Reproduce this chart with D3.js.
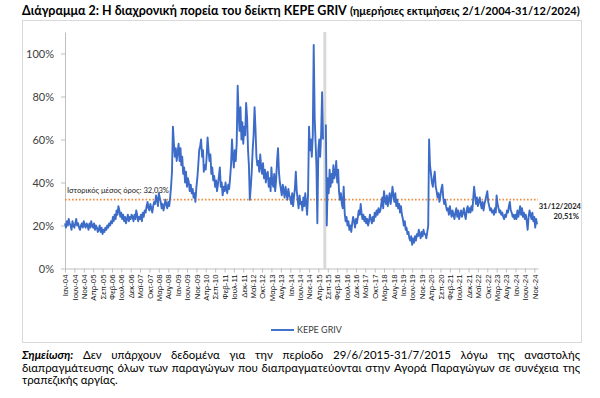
<!DOCTYPE html>
<html>
<head>
<meta charset="utf-8">
<script src="https://cdn.jsdelivr.net/npm/d3@7"></script>
<style>
  body { margin: 0; background: #fff; }
  svg { display: block; }
</style>
</head>
<body>
<div class="chart"></div>
<script>
// KEPE GRIV, % - two readings a month (1st and 16th)
let v2004 = [21,19,22,20,23,21,20,18,22,20,19,21,23,20,21,19,18,20,21,19,22,20,19,21];
let v2005 = [20,18,21,19,22,20,19,21,18,20,19,17,18,20,17,19,16,18,17,19,18,20,19,21];
let v2006 = [20,22,21,24,22,25,23,27,25,29,27,24,26,23,25,22,24,21,23,25,22,24,23,25];
let v2007 = [24,22,25,23,27,25,22,24,23,25,22,26,24,27,26,29,31,28,27,30,28,26,29,31];
let v2008 = [30,34,32,29,35,33,31,28,30,27,29,32,30,28,31,29,33,38,45,66,58,52,56,50];
let v2009 = [54,58,50,56,48,52,44,47,40,45,38,42,40,36,39,35,37,33,35,31,38,42,48,55];
let v2010 = [57,60,52,55,45,48,46,52,61,55,50,53,44,47,41,43,38,41,36,39,43,47,38,40];
let v2011 = [34,38,36,40,37,35,39,37,42,48,60,52,47,55,50,58,85,72,64,75,60,68,58,66];
let v2012 = [62,77,70,55,48,32,38,45,55,62,75,65,52,48,50,45,53,47,44,49,42,46,40,44];
let v2013 = [45,38,42,36,47,40,38,44,36,41,50,56,45,40,37,34,39,36,33,38,35,32,37,34];
let v2014 = [33,30,35,29,33,37,45,36,32,28,34,30,31,27,33,29,35,30,25,34,66,55,60,52];
let v2015 = [62,104,70,58,48,21,55,60,52,62,82,60,null,null,67,20,42,35,46,38,44,40,48,42];
let v2016 = [44,50,40,46,36,32,35,30,28,38,26,22,24,20,22,18,20,17,21,24,22,19,23,21];
let v2017 = [24,27,25,30,26,23,25,22,24,21,23,20,22,25,23,21,24,22,26,24,27,25,28,26];
let v2018 = [27,30,33,28,36,32,30,34,29,32,35,30,33,38,34,31,35,29,32,28,30,26,29,25];
let v2019 = [23,20,22,18,19,16,17,14,13,15,11,14,12,15,13,16,15,18,16,14,17,15,18,16];
let v2020 = [16,14,17,20,60,48,44,40,38,42,45,38,36,33,35,31,34,37,39,33,30,32,29,27];
let v2021 = [28,25,29,26,24,27,25,23,26,28,24,27,23,25,27,24,26,28,25,23,27,29,26,28];
let v2022 = [26,29,27,33,38,34,30,33,29,31,33,30,28,31,27,30,32,34,36,31,29,27,28,26];
let v2023 = [27,25,28,26,34,30,28,26,27,25,26,24,23,25,24,27,26,29,31,27,26,24,25,23];
let v2024 = [25,23,27,24,26,29,25,28,24,26,23,25,22,18,24,27,25,23,26,22,24,19,23,20.51];

let monthNames = ["Ιαν","Φεβ","Μαρ","Απρ","Μαϊ","Ιουν","Ιουλ","Αυγ","Σεπ","Οκτ","Νοε","Δεκ"];
let yTicks = [0, 20, 40, 60, 80, 100];
let historicalMean = 32.03;
let lastValue = 20.51;
let gapStart = new Date(2015, 5, 29);
let gapEnd = new Date(2015, 6, 31);

let titleMain = "Διάγραμμα 2: Η διαχρονική πορεία του δείκτη KEPE GRIV";
let titleSub = "(ημερήσιες εκτιμήσεις 2/1/2004-31/12/2024)";
let noteLines = [
    "Σημείωση: Δεν υπάρχουν δεδομένα για την περίοδο 29/6/2015-31/7/2015 λόγω της αναστολής",
    "διαπραγμάτευσης όλων των παραγώγων που διαπραγματεύονται στην Αγορά Παραγώγων σε συνέχεια της",
    "τραπεζικής αργίας."
];

let svgWidth = 600;
let svgHeight = 398;
let margin = { top: 32, right: 62, bottom: 129.5, left: 65 };
let width = svgWidth - margin.left - margin.right;
let height = svgHeight - margin.top - margin.bottom;

let yearly = [v2004, v2005, v2006, v2007, v2008, v2009, v2010, v2011, v2012, v2013, v2014,
              v2015, v2016, v2017, v2018, v2019, v2020, v2021, v2022, v2023, v2024];
let data = [];
yearly.forEach(function (vals, k) {
    vals.forEach(function (v, i) {
        data.push({ date: new Date(2004 + k, Math.floor(i / 2), i % 2 ? 16 : 1), value: v });
    });
});

let svg = d3.select(".chart")
    .append("svg")
    .attr("width", svgWidth)
    .attr("height", svgHeight);

// outer frame
svg.append("rect")
    .attr("x", 22.5).attr("y", 20.5)
    .attr("width", 559).attr("height", 322)
    .attr("fill", "none")
    .attr("stroke", "#d9d9d9");

// title: the two parts sized so they span the same width as in the source
function fitText(sel, target) {
    sel.attr("font-size", "10px");
    let w = sel.node().getComputedTextLength();
    sel.attr("font-size", (10 * target / w) + "px");
}
let titleMainText = svg.append("text")
    .attr("x", 22).attr("y", 14.5)
    .attr("font-family", "Lato, 'Open Sans', sans-serif")
    .attr("font-weight", "bold")
    .attr("fill", "#000")
    .text(titleMain);
fitText(titleMainText, 325);
let titleSubText = svg.append("text")
    .attr("x", 350).attr("y", 14.5)
    .attr("font-family", "Lato, 'Open Sans', sans-serif")
    .attr("font-weight", "bold")
    .attr("fill", "#000")
    .text(titleSub);
fitText(titleSubText, 230);

let chartGroup = svg.append("g")
    .attr("transform", `translate(${margin.left}, ${margin.top})`);

let x = d3.scaleTime()
    .domain([new Date(2004, 0, 1), new Date(2024, 11, 31)])
    .range([0, width]);

let y = d3.scaleLinear()
    .domain([0, 110])
    .range([height, 0]);

// suspension of trading, summer 2015
let gx0 = x(gapStart), gx1 = x(gapEnd);
chartGroup.append("rect")
    .attr("x", (gx0 + gx1) / 2 - 1.5)
    .attr("y", 0)
    .attr("width", 3)
    .attr("height", height)
    .attr("fill", "#d9d9d9");

// axes
let tickDates = [];
for (let m = 0; m <= 250; m += 5) tickDates.push(new Date(2004, m, 1));

let bottomAxis = d3.axisBottom(x)
    .tickValues(tickDates)
    .tickSize(4)
    .tickSizeOuter(0)
    .tickFormat(d => monthNames[d.getMonth()] + "-" + String(d.getFullYear()).slice(2));

let leftAxis = d3.axisLeft(y)
    .tickValues(yTicks)
    .tickSize(4)
    .tickSizeOuter(0)
    .tickFormat(d => d + "%");

let xAxis = chartGroup.append("g")
    .attr("transform", `translate(0, ${height})`)
    .call(bottomAxis);

xAxis.selectAll("text")
    .attr("font-family", "Arimo, 'Liberation Sans', Arial, sans-serif")
    .attr("font-size", "7.8px")
    .attr("fill", "#111")
    .attr("text-anchor", "end")
    .attr("transform", "rotate(-90)")
    .attr("x", -6)
    .attr("y", 0)
    .attr("dy", "0.35em");

let yAxis = chartGroup.append("g")
    .call(leftAxis);

yAxis.selectAll("text")
    .attr("font-family", "Lato, 'Open Sans', sans-serif")
    .attr("font-size", "11px")
    .attr("fill", "#404040")
    .attr("x", -11);

chartGroup.selectAll(".domain, .tick line")
    .attr("stroke", "#bfbfbf");

// historical mean
chartGroup.append("line")
    .attr("x1", 0).attr("x2", width)
    .attr("y1", y(historicalMean)).attr("y2", y(historicalMean))
    .attr("stroke", "#f08a3c")
    .attr("stroke-width", 1.6)
    .attr("stroke-dasharray", "1.6,1.9");

// series
let line = d3.line()
    .defined(d => d.value !== null)
    .x(d => x(d.date))
    .y(d => y(d.value));

chartGroup.append("path")
    .datum(data)
    .attr("fill", "none")
    .attr("stroke", "#3c6cc8")
    .attr("stroke-width", 1.9)
    .attr("stroke-linejoin", "round")
    .attr("d", line);

// annotations
chartGroup.append("text")
    .attr("x", 2).attr("y", y(historicalMean) - 7)
    .attr("font-family", "Lato, 'Open Sans', sans-serif")
    .attr("font-size", "7.6px")
    .attr("fill", "#262626")
    .text("Ιστορικός μέσος όρος: " + String(historicalMean).replace(".", ",") + "%");

let lastLabel = chartGroup.append("g")
    .attr("font-family", "Lato, 'Open Sans', sans-serif")
    .attr("font-size", "7.6px")
    .attr("font-weight", "bold")
    .attr("fill", "#262626")
    .attr("text-anchor", "end");
lastLabel.append("text")
    .attr("x", width + 43).attr("y", y(lastValue) - 15)
    .text("31/12/2024");
lastLabel.append("text")
    .attr("x", width + 41).attr("y", y(lastValue) - 5)
    .text(String(lastValue).replace(".", ",") + "%");

// legend
let legend = svg.append("g")
    .attr("transform", "translate(271, 330)");
legend.append("line")
    .attr("x1", 0).attr("x2", 23)
    .attr("stroke", "#3c6cc8")
    .attr("stroke-width", 1.9);
legend.append("text")
    .attr("x", 26).attr("y", 3.3)
    .attr("font-family", "Lato, 'Open Sans', sans-serif")
    .attr("font-size", "9px")
    .attr("fill", "#404040")
    .text("KEPE GRIV");

// footnote, justified like the source; size picked so the middle line fills the frame
let noteGroup = svg.append("g")
    .attr("font-family", "Lato, 'Open Sans', sans-serif")
    .attr("fill", "#000");

let probe = noteGroup.append("text").attr("font-size", "10px").text(noteLines[1]);
let noteSize = 10 * 548 / probe.node().getComputedTextLength();
probe.remove();
noteGroup.attr("font-size", noteSize + "px");

noteLines.forEach(function (txt, li) {
    let words = txt.split(" ");
    let yPos = 359 + li * 12.6;
    let nodes = words.map(function (w, wi) {
        let t = noteGroup.append("text").attr("y", yPos).text(w);
        if (li === 0 && wi === 0) t.attr("font-weight", "bold").attr("font-style", "italic");
        return t;
    });
    let widths = nodes.map(n => n.node().getComputedTextLength());
    let total = d3.sum(widths);
    let justify = li < noteLines.length - 1;
    let gap = justify ? (580 - 22 - total) / (words.length - 1) : noteSize * 0.26;
    let cx = 22;
    nodes.forEach(function (n, i) {
        n.attr("x", cx);
        cx += widths[i] + gap;
    });
});
</script>
</body>
</html>
